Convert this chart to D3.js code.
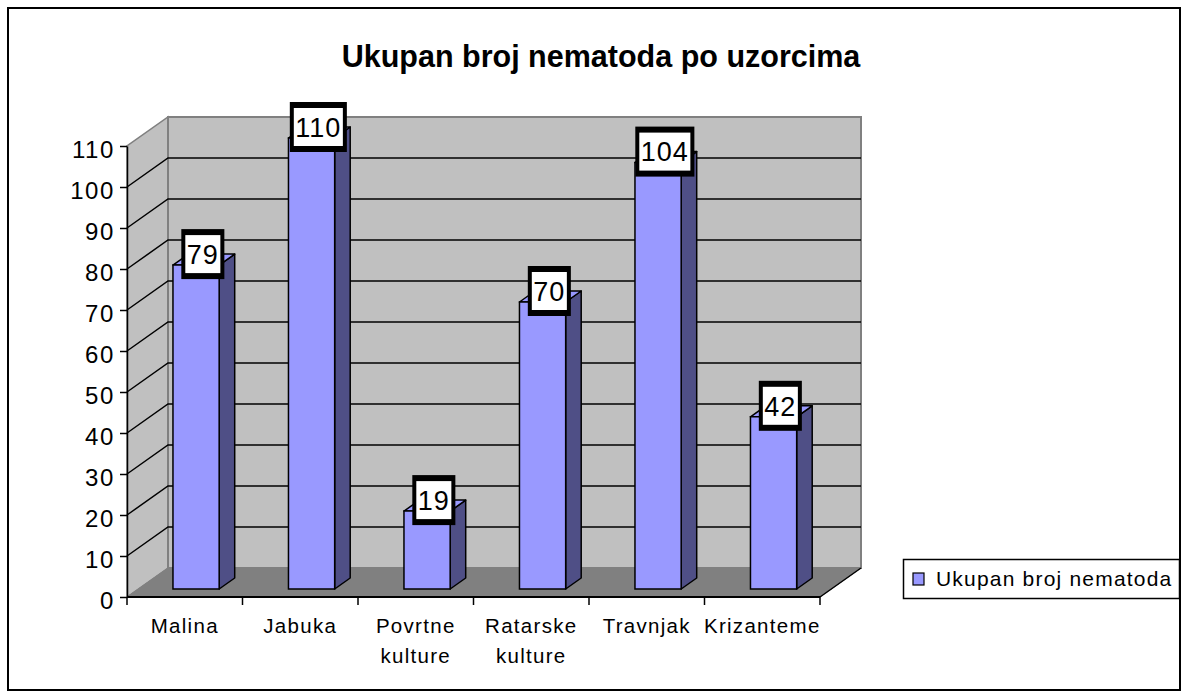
<!DOCTYPE html>
<html>
<head>
<meta charset="utf-8">
<script src="https://cdn.jsdelivr.net/npm/d3@7"></script>
<style>
  html, body { margin: 0; padding: 0; background: #fff; }
  svg { display: block; font-family: Arial, "Liberation Sans", sans-serif; }
</style>
</head>
<body>
<svg class="chart" width="1182" height="692"></svg>
<script>
const categories = ["Malina", "Jabuka", "Povrtne kulture", "Ratarske kulture", "Travnjak", "Krizanteme"];
const values = [79, 110, 19, 70, 104, 42];
const yTicks = [0, 10, 20, 30, 40, 50, 60, 70, 80, 90, 100, 110];
const seriesName = "Ukupan broj nematoda";
const title = "Ukupan broj nematoda po uzorcima";

const barFront = "#9999ff";
const barSide = "#4f4f86";
const wallFill = "#c0c0c0";
const floorFill = "#808080";
const edgeStroke = "#808080";

// depth vector of the 3d box and where the bars sit inside it
const depthX = 41;
const depthY = -29;
const barDepth0 = 0.276;
const barDepth1 = 0.655;
const gapWidth = 1.5;

const svg = d3.select("svg.chart");

const x = d3.scaleBand().domain(categories).range([127, 820]);
const y = d3.scaleLinear().domain([0, 110]).range([597, 146]);

const pt = (px, py, f) => [px + depthX * f, py + depthY * f];
const poly = (pts) => "M" + pts.map((p) => p.join(",")).join("L") + "Z";

const x0 = x.range()[0];
const x1 = x.range()[1];

// outer frame
svg.append("rect")
  .attr("x", 8).attr("y", 8)
  .attr("width", 1172).attr("height", 682)
  .attr("fill", "white")
  .attr("stroke", "black")
  .attr("stroke-width", 2);

// title
svg.append("text")
  .attr("x", 601).attr("y", 67)
  .attr("text-anchor", "middle")
  .attr("font-size", 30.5)
  .attr("font-weight", "bold")
  .text(title);

const walls = svg.append("g").attr("class", "walls");

// left side wall
walls.append("path")
  .attr("d", poly([pt(x0, y(0), 0), pt(x0, y(0), 1), pt(x0, y(110), 1), pt(x0, y(110), 0)]))
  .attr("fill", wallFill)
  .attr("stroke", edgeStroke)
  .attr("stroke-width", 1.5);

// back wall
walls.append("path")
  .attr("d", poly([pt(x0, y(0), 1), pt(x1, y(0), 1), pt(x1, y(110), 1), pt(x0, y(110), 1)]))
  .attr("fill", wallFill)
  .attr("stroke", edgeStroke)
  .attr("stroke-width", 2);

// floor
walls.append("path")
  .attr("d", poly([pt(x0, y(0), 0), pt(x1, y(0), 0), pt(x1, y(0), 1), pt(x0, y(0), 1)]))
  .attr("fill", floorFill)
  .attr("stroke", edgeStroke)
  .attr("stroke-width", 1);

walls.append("path")
  .attr("d", "M" + pt(x1, y(0), 0).join(",") + "L" + pt(x1, y(0), 1).join(","))
  .attr("stroke", "black")
  .attr("stroke-width", 1.5);

// gridlines on side and back wall
walls.selectAll("path.grid")
  .data(yTicks.filter((v) => v > 0 && v < 110))
  .join("path")
  .attr("class", "grid")
  .attr("d", (v) => "M" + [pt(x0, y(v), 0), pt(x0, y(v), 1), pt(x1, y(v), 1)].map((p) => p.join(",")).join("L"))
  .attr("fill", "none")
  .attr("stroke", "black")
  .attr("stroke-width", 1.5);

// y axis
const yAxis = svg.append("g")
  .attr("class", "y-axis")
  .attr("transform", `translate(${x0},0)`)
  .call(d3.axisLeft(y).tickValues(yTicks).tickSize(7).tickPadding(5).tickSizeOuter(0));
yAxis.select(".domain").attr("stroke", "black").attr("stroke-width", 1.5);
yAxis.selectAll(".tick line").attr("stroke", "black").attr("stroke-width", 1.5);
yAxis.selectAll(".tick text")
  .attr("font-family", "Arial, 'Liberation Sans', sans-serif")
  .attr("font-size", 24)
  .attr("letter-spacing", 1.6)
  .attr("fill", "black")
  .attr("dy", "0.65em")
  .attr("y", -4.5);

// x axis: baseline and ticks at category boundaries
const xAxis = svg.append("g").attr("class", "x-axis");
xAxis.append("line")
  .attr("x1", x0).attr("x2", x1)
  .attr("y1", y(0)).attr("y2", y(0))
  .attr("stroke", "black").attr("stroke-width", 2);
xAxis.selectAll("line.tick")
  .data(categories.map((c) => x(c)).concat([x1]))
  .join("line")
  .attr("class", "tick")
  .attr("x1", (d) => d).attr("x2", (d) => d)
  .attr("y1", y(0)).attr("y2", y(0) + 8)
  .attr("stroke", "black").attr("stroke-width", 1.5);

xAxis.selectAll("text.cat")
  .data(categories)
  .join("text")
  .attr("class", "cat")
  .attr("x", (d) => x(d) + x.bandwidth() / 2)
  .attr("y", 633)
  .attr("text-anchor", "middle")
  .attr("font-size", 20.5)
  .attr("letter-spacing", 1.3)
  .each(function (d) {
    const t = d3.select(this);
    d.split(" ").forEach((w, i) => {
      t.append("tspan")
        .attr("x", x(d) + x.bandwidth() / 2)
        .attr("dy", i === 0 ? 0 : 30)
        .text(w);
    });
  });

// bars
const barW = x.bandwidth() / (1 + gapWidth);
const bars = svg.append("g").attr("class", "bars")
  .selectAll("g.bar")
  .data(categories.map((c, i) => ({ cat: c, value: values[i] })))
  .join("g")
  .attr("class", "bar");

const bl = (d) => x(d.cat) + (x.bandwidth() - barW) / 2;

bars.append("path")
  .attr("d", (d) => {
    const l = bl(d), r = l + barW;
    return poly([pt(r, y(0), barDepth0), pt(r, y(0), barDepth1), pt(r, y(d.value), barDepth1), pt(r, y(d.value), barDepth0)]);
  })
  .attr("fill", barSide)
  .attr("stroke", "black")
  .attr("stroke-width", 1.5)
  .attr("stroke-linejoin", "round");

bars.append("path")
  .attr("d", (d) => {
    const l = bl(d), r = l + barW;
    return poly([pt(l, y(d.value), barDepth0), pt(r, y(d.value), barDepth0), pt(r, y(d.value), barDepth1), pt(l, y(d.value), barDepth1)]);
  })
  .attr("fill", barFront)
  .attr("stroke", "black")
  .attr("stroke-width", 1.5)
  .attr("stroke-linejoin", "round");

bars.append("path")
  .attr("d", (d) => {
    const l = bl(d), r = l + barW;
    return poly([pt(l, y(0), barDepth0), pt(r, y(0), barDepth0), pt(r, y(d.value), barDepth0), pt(l, y(d.value), barDepth0)]);
  })
  .attr("fill", barFront)
  .attr("stroke", "black")
  .attr("stroke-width", 1.5);

// data labels, centred on the bar top
const midF = (barDepth0 + barDepth1) / 2;
const labels = svg.append("g").attr("class", "labels")
  .selectAll("g.label")
  .data(categories.map((c, i) => ({ cat: c, value: values[i] })))
  .join("g")
  .attr("class", "label")
  .attr("transform", (d) => {
    const cx = bl(d) + barW / 2 + depthX * midF - 1;
    const cy = y(d.value) + depthY * midF - 5.5;
    return `translate(${cx},${cy})`;
  });

labels.append("rect").attr("class", "outer").attr("fill", "black");
labels.append("rect").attr("class", "inner").attr("fill", "white");
labels.append("text")
  .attr("text-anchor", "middle")
  .attr("font-size", 27)
  .attr("letter-spacing", 1)
  .attr("dy", "0.36em")
  .text((d) => d.value);

labels.each(function () {
  const g = d3.select(this);
  const tw = g.select("text").node().getComputedTextLength();
  const iw = tw + 3;
  g.select("rect.inner").attr("x", -iw / 2).attr("y", -19).attr("width", iw).attr("height", 38);
  g.select("rect.outer").attr("x", -iw / 2 - 4).attr("y", -25).attr("width", iw + 8).attr("height", 50);
});

// legend
const legend = svg.append("g").attr("class", "legend");
legend.append("rect")
  .attr("x", 903.5).attr("y", 559.5)
  .attr("width", 276).attr("height", 39)
  .attr("fill", "white")
  .attr("stroke", "black")
  .attr("stroke-width", 1.5);
legend.append("rect")
  .attr("x", 913).attr("y", 573)
  .attr("width", 11).attr("height", 12)
  .attr("fill", barFront)
  .attr("stroke", "black")
  .attr("stroke-width", 1.2);
legend.append("text")
  .attr("x", 936).attr("y", 586)
  .attr("font-size", 21)
  .attr("letter-spacing", 1.2)
  .text(seriesName);
</script>
</body>
</html>
